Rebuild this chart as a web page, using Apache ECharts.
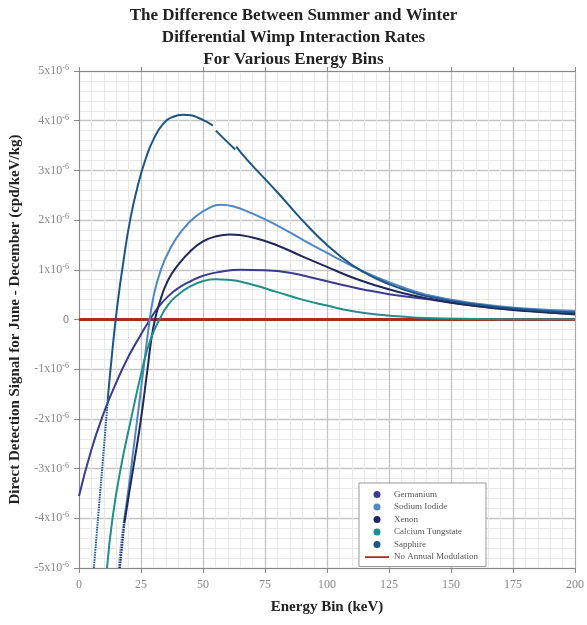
<!DOCTYPE html>
<html><head><meta charset="utf-8">
<script src="https://cdn.jsdelivr.net/npm/echarts@6/dist/echarts.min.js"></script>
<style>html,body{margin:0;padding:0;background:#fff}#c{width:587px;height:625px}</style>
</head><body><div id="c"></div>
<script>
// Values are in units of 1e-6 cpd/keV/kg; x in keV
const germanium = [[0,-3.55],[5,-2.62],[10,-1.88],[15,-1.27],[20,-0.74],[25,-0.3],[28,-0.05],[32,0.25],[36,0.47],[40,0.63],[45,0.77],[50,0.88],[57,0.96],[65,1.0],[75,0.99],[85,0.94],[95,0.83],[105,0.71],[115,0.6],[125,0.51],[140,0.41],[160,0.27],[180,0.18],[200,0.1]];
const sodiumIodideDotted = [[16,-5],[17,-4.5],[18,-4.1]];
const sodiumIodide = [[18,-4.1],[20,-3.4],[22,-2.6],[24,-1.8],[26,-1],[28,-0.2],[30,0.45],[33,1.0],[37,1.45],[42,1.82],[47,2.07],[52,2.23],[57,2.31],[62,2.28],[70,2.13],[80,1.89],[90,1.61],[100,1.34],[110,1.08],[120,0.85],[130,0.66],[140,0.5],[160,0.32],[180,0.22],[200,0.17]];
const xenonDotted = [[16.5,-5],[17.5,-4.5],[18.3,-4.1]];
const xenon = [[18.3,-4.1],[20.5,-3.4],[22.5,-2.8],[25,-2],[27.5,-1.05],[30,-0.15],[33,0.42],[36,0.8],[40,1.1],[45,1.38],[50,1.57],[55,1.67],[61,1.71],[70,1.65],[80,1.49],[90,1.27],[100,1.06],[110,0.85],[120,0.68],[130,0.54],[140,0.43],[160,0.27],[180,0.17],[200,0.11]];
const calciumTungstate = [[11.3,-5],[13.5,-4],[16.8,-3],[21,-2],[25.5,-1],[29,-0.38],[33,0.05],[36,0.3],[40,0.5],[45,0.67],[50,0.77],[55,0.81],[60,0.8],[70,0.7],[80,0.55],[90,0.4],[100,0.28],[110,0.17],[120,0.1],[130,0.06],[140,0.03],[160,0.012],[180,0.006],[200,0.004]];
const sapphireDotted = [[6,-5],[8,-3.8],[10,-2.6],[11.6,-1.6]];
const sapphire = [[11.6,-1.6],[13.5,-0.6],[15.5,0.3],[18,1.2],[20.8,2.05],[24,2.75],[27,3.25],[30,3.62],[34,3.94],[38,4.08],[42,4.12],[45,4.11],[48,4.06],[51,3.99],[54,3.9],null,[55.2,3.8],[58,3.66],[63,3.42],null,[63.4,3.48],[68,3.2],[74,2.88],[80,2.56],[90,2.0],[100,1.5],[110,1.1],[120,0.82],[130,0.62],[140,0.47],[160,0.3],[180,0.2],[200,0.14]];
const noModulation = [[0,0],[200,0]];

const names = ['Germanium','Sodium Iodide','Xenon','Calcium Tungstate','Sapphire','No Annual Modulation'];
const colors = ['#3a3d8f','#4f86c6','#1f275c','#1f8f8a','#1d5585','#a3301c'];
const xTicks = {min:0,max:200,interval:25};
const yTicks = {min:-5,max:5,interval:1};

const serif = '"Liberation Serif","DejaVu Serif",serif';
function yLab(v){ if(v===0) return '0'; return v + 'x10{sup|-6}'; }

function line(name, data, color, dotted, width){
  return {name, type:'line', data, showSymbol:false, symbol:'none', connectNulls:false,
    lineStyle:{color, width: width||2, type: dotted?[1.5,1]:'solid'}, itemStyle:{color},
    smooth:0.5, animation:false, z: 3};
}

const chart = echarts.init(document.getElementById('c'), null, {renderer:'canvas'});
chart.setOption({
  animation:false,
  backgroundColor:'#fff',
  title:{text:'The Difference Between Summer and Winter\nDifferential Wimp Interaction Rates\nFor Various Energy Bins',
    left:'center', top:0, textStyle:{fontFamily:serif, fontWeight:'bold', fontSize:17, lineHeight:22, color:'#222'}},
  grid:{left:78, right:10, top:71, bottom:57},
  xAxis:[{type:'value', min:xTicks.min, max:xTicks.max, interval:xTicks.interval,
    name:'Energy Bin (keV)', nameLocation:'middle', nameGap:32,
    nameTextStyle:{fontFamily:serif, fontWeight:'bold', fontSize:15, color:'#222'},
    axisLine:{onZero:false, lineStyle:{color:'#888'}}, axisTick:{show:true, length:5, lineStyle:{color:'#888'}},
    axisLabel:{fontFamily:serif, fontSize:12, color:'#888', margin:11},
    splitLine:{show:true, lineStyle:{color:'#c4c4c4', width:1.3}},
    minorTick:{show:false, splitNumber:5}, minorSplitLine:{show:true, lineStyle:{color:'#e8e8e8'}}},
   {type:'value', position:'top', min:xTicks.min, max:xTicks.max, interval:xTicks.interval,
    axisLine:{onZero:false, lineStyle:{color:'#888'}}, axisTick:{show:true, length:4, lineStyle:{color:'#888'}},
    axisLabel:{show:false}, splitLine:{show:false}}],
  yAxis:[{type:'value', min:yTicks.min, max:yTicks.max, interval:yTicks.interval,
    name:'Direct Detection Signal for June - December (cpd/keV/kg)', nameLocation:'middle', nameGap:56,
    nameTextStyle:{fontFamily:serif, fontWeight:'bold', fontSize:15, color:'#222'},
    axisLine:{show:true, onZero:false, lineStyle:{color:'#888'}}, axisTick:{show:true, length:5, lineStyle:{color:'#888'}},
    axisLabel:{fontFamily:serif, fontSize:12, color:'#888', margin:10, formatter:yLab,
      rich:{sup:{fontSize:8, color:'#888', fontFamily:serif, verticalAlign:'top', padding:[0,0,6,0]}}},
    splitLine:{show:true, lineStyle:{color:'#c4c4c4', width:1.3}},
    minorTick:{show:false, splitNumber:5}, minorSplitLine:{show:true, lineStyle:{color:'#e8e8e8'}}},
   {type:'value', position:'right', min:yTicks.min, max:yTicks.max, interval:yTicks.interval,
    axisLine:{show:true, onZero:false, lineStyle:{color:'#aaa'}}, axisTick:{show:false}, axisLabel:{show:false}, splitLine:{show:false}}],
  legend:{orient:'vertical', left:359, top:483, padding:[6,8,4,6], itemGap:1.5, itemWidth:24, itemHeight:7,
    backgroundColor:'#fff', borderColor:'#999', borderWidth:1, borderRadius:0,
    textStyle:{fontFamily:serif, fontSize:9, color:'#555', lineHeight:11},
    data:[{name:names[0],icon:'circle'},{name:names[1],icon:'circle'},{name:names[2],icon:'circle'},
          {name:names[3],icon:'circle'},{name:names[4],icon:'circle'},
          {name:names[5],icon:'path://M0,0L0.01,0L0,0.01Z M0,2.8H24V4.4H0Z M0,7L0.01,7L0,6.99Z'}]},
  series:[
    line(names[5], noModulation, colors[5], false, 3),
    line(names[0], germanium, colors[0]),
    line(names[1], sodiumIodide, colors[1]),
    line(names[1], sodiumIodideDotted, colors[1], true),
    line(names[2], xenon, colors[2]),
    line(names[2], xenonDotted, colors[2], true),
    line(names[3], calciumTungstate, colors[3]),
    line(names[4], sapphire, colors[4]),
    line(names[4], sapphireDotted, colors[4], true)
  ]
});
</script></body></html>
